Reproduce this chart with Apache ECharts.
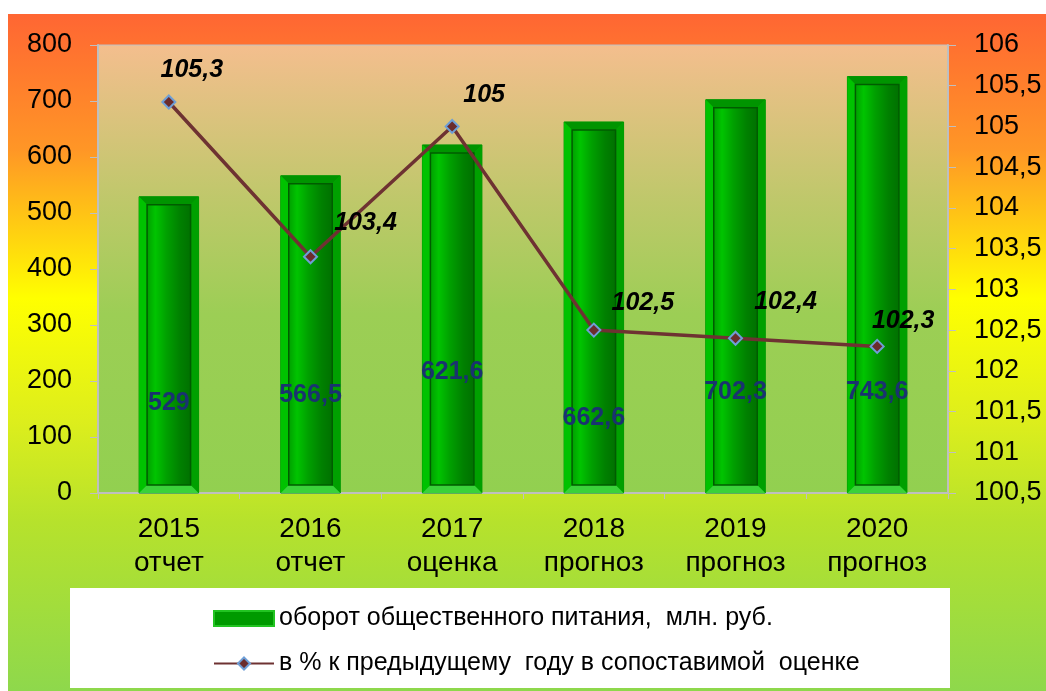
<!DOCTYPE html>
<html><head><meta charset="utf-8">
<script src="https://cdn.jsdelivr.net/npm/echarts@6/dist/echarts.min.js"></script>
<style>html,body{margin:0;padding:0;background:#fff}#c{width:1046px;height:691px}</style>
</head><body><div id="c"></div>
<script>
const categories = ['2015\nотчет','2016\nотчет','2017\nоценка','2018\nпрогноз','2019\nпрогноз','2020\nпрогноз'];
const turnover = [529, 566.5, 621.6, 662.6, 702.3, 743.6];
const percentPrev = [105.3, 103.4, 105, 102.5, 102.4, 102.3];
const seriesNames = ['оборот общественного питания,  млн. руб.', 'в % к предыдущему  году в сопоставимой  оценке'];

// label placement styling (Excel manual positions), pixels
const barLabelLift = [90, 98, 121, 75, 101, 101];
const lineLabelOffset = [[23,-7],[55,-9],[32,-6],[49,-2],[50,-11],[26,0]];

const fmt = v => String(v).replace('.', ',');
const FONT = '"Liberation Sans", Arial, sans-serif';

function renderBevelBar(params, api) {
  const i = api.value(0), v = api.value(1);
  const top = api.coord([i, v]);
  const bot = api.coord([i, 0]);
  const w = api.size([1, 0])[0] * 0.42;
  const x0 = top[0] - w / 2, x1 = top[0] + w / 2, y0 = top[1], y1 = bot[1];
  const b = 8;
  const ix0 = x0 + b, ix1 = x1 - b, iy0 = y0 + b, iy1 = y1 - b;
  const innerFill = {type:'linear',x:0,y:0,x2:1,y2:0,colorStops:[
    {offset:0,color:'#009C00'},{offset:0.2,color:'#00C400'},{offset:0.45,color:'#00A000'},
    {offset:0.75,color:'#008000'},{offset:1,color:'#007000'}]};
  return {
    type:'group',
    children:[
      {type:'rect', shape:{x:x0,y:y0,width:x1-x0,height:y1-y0}, style:{fill:'#00B400',stroke:'#009600',lineWidth:1}},
      {type:'polygon', shape:{points:[[x0,y0],[x1,y0],[ix1,iy0],[ix0,iy0]]}, style:{fill:'#009400'}},
      {type:'polygon', shape:{points:[[x0,y0],[ix0,iy0],[ix0,iy1],[x0,y1]]}, style:{fill:'#00C200'}},
      {type:'polygon', shape:{points:[[x1,y0],[x1,y1],[ix1,iy1],[ix1,iy0]]}, style:{fill:'#00A000'}},
      {type:'polygon', shape:{points:[[x0,y1],[ix0,iy1],[ix1,iy1],[x1,y1]]}, style:{fill:'#3AD23A'}},
      {type:'rect', shape:{x:ix0,y:iy0,width:ix1-ix0,height:iy1-iy0}, style:{fill:innerFill,stroke:'#005C00',lineWidth:1.5}},
      {type:'text', z2:10, style:{text:fmt(v), x:top[0], y:y1 - barLabelLift[params.dataIndex],
        align:'center', verticalAlign:'middle', fontSize:25, fontWeight:'bold', fontFamily:FONT, fill:'#1A3270'}}
    ]
  };
}

const chart = echarts.init(document.getElementById('c'), null, {renderer:'canvas'});
chart.setOption({
  animation:false,
  textStyle:{fontFamily:FONT},
  graphic:[
    {type:'rect', z:-10, shape:{x:8,y:14,width:1038,height:677},
     style:{fill:{type:'linear',x:0,y:0,x2:0,y2:1,colorStops:[
       {offset:0,color:'#FF6633'},{offset:0.2,color:'#FF9626'},{offset:0.42,color:'#FFFF00'},
       {offset:0.6,color:'#DDEE1C'},{offset:0.75,color:'#B6E22C'},{offset:1,color:'#8ED84C'}]}}},
    {type:'rect', z:-5, shape:{x:70,y:588,width:880,height:100}, style:{fill:'#FFFFFF'}}
  ],
  grid:{left:98,right:98,top:45,bottom:198,show:true,borderColor:'#BFBFBF',borderWidth:1,
    backgroundColor:{type:'linear',x:0,y:0,x2:0,y2:1,colorStops:[
      {offset:0,color:'#F4BE8E'},{offset:0.35,color:'#BEC86A'},{offset:0.6,color:'#9CCE55'},{offset:1,color:'#92D050'}]}},
  legend:{
    orient:'vertical', left:208, top:601, itemGap:20, itemWidth:60, itemHeight:15,
    textStyle:{fontSize:25, color:'#000', fontFamily:FONT},
    data:[
      {name:seriesNames[0], icon:'rect', itemStyle:{color:'#009A00',borderColor:'#22C422',borderWidth:2}},
      {name:seriesNames[1]}
    ]
  },
  xAxis:{type:'category', data:categories,
    axisLine:{lineStyle:{color:'#BFBFBF',width:2}},
    axisTick:{show:true,length:6,lineStyle:{color:'#BFBFBF'}},
    axisLabel:{fontSize:28,color:'#000',margin:19,lineHeight:34,fontFamily:FONT}},
  yAxis:[
    {type:'value',min:0,max:800,interval:100,
     axisLine:{show:true,lineStyle:{color:'#BFBFBF',width:2}},
     axisTick:{show:true,length:8,lineStyle:{color:'#BFBFBF'}},
     splitLine:{show:false},
     axisLabel:{fontSize:27,color:'#000',margin:26,fontFamily:FONT}},
    {type:'value',min:100.5,max:106,interval:0.5,
     axisLine:{show:true,lineStyle:{color:'#BFBFBF',width:2}},
     axisTick:{show:true,length:8,lineStyle:{color:'#BFBFBF'}},
     splitLine:{show:false},
     axisLabel:{fontSize:27,color:'#000',margin:26,fontFamily:FONT,formatter:v=>fmt(+v.toFixed(1))}}
  ],
  series:[
    {name:seriesNames[0], type:'custom', yAxisIndex:0, renderItem:renderBevelBar,
     encode:{x:0,y:1}, itemStyle:{color:'#009A00'},
     data:turnover.map((v,i)=>[i,v]), z:2},
    {name:seriesNames[1], type:'line', yAxisIndex:1, symbol:'diamond', symbolSize:13,
     lineStyle:{color:'#6E3232',width:3.5},
     itemStyle:{color:'#6B2C2C',borderColor:'#6E9ED6',borderWidth:2},
     data:percentPrev.map((v,i)=>({value:v,label:{offset:lineLabelOffset[i]}})),
     label:{show:true,position:'top',fontSize:25,fontWeight:'bold',fontStyle:'italic',color:'#000',fontFamily:FONT,formatter:p=>fmt(p.value)},
     z:5}
  ]
});
</script></body></html>
